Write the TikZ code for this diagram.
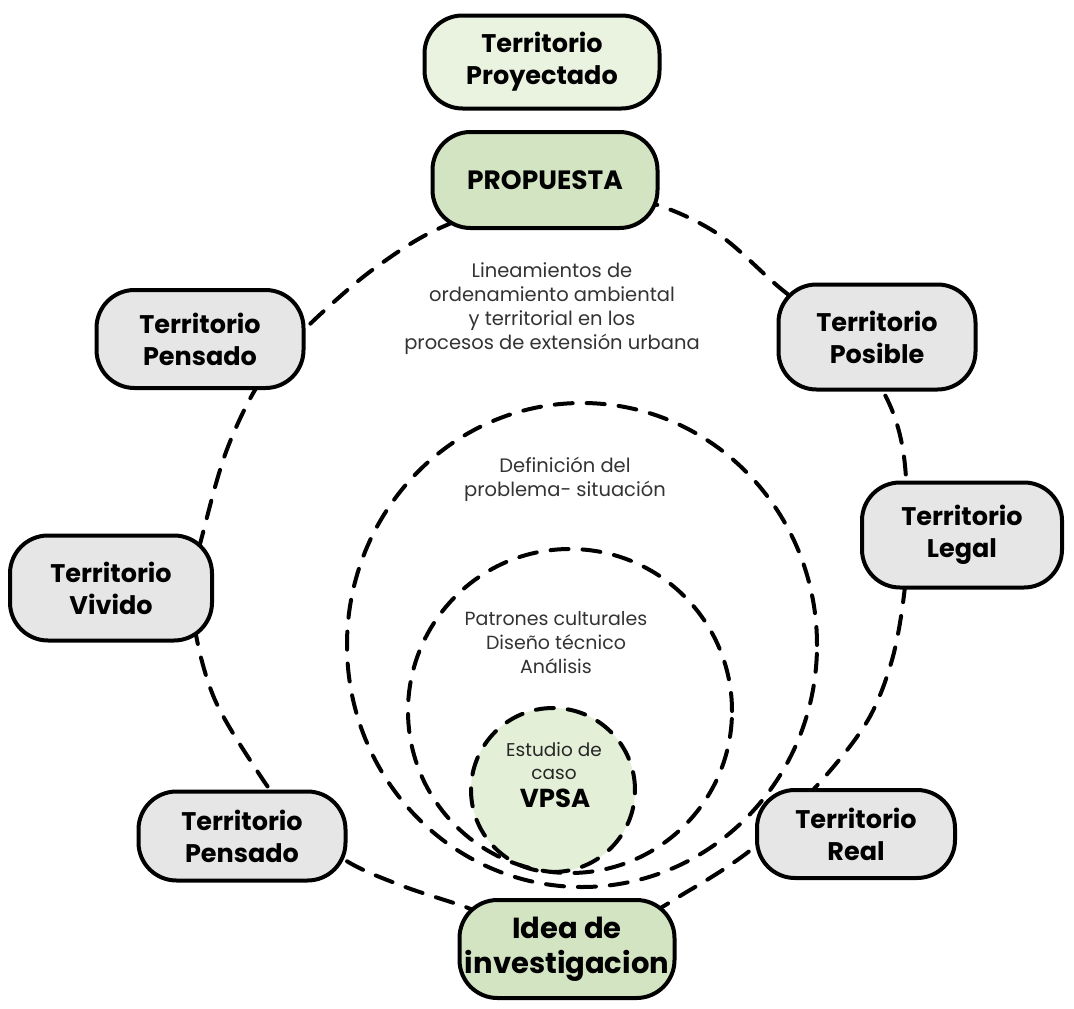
\documentclass[tikz,border=0pt]{standalone}
\usepackage{fontspec}
\setmainfont{Poppins}
\usetikzlibrary{shapes.geometric}
\definecolor{boxgray}{HTML}{E6E6E6}
\definecolor{lightgreen}{HTML}{EAF2E0}
\definecolor{midgreen}{HTML}{D3E4C3}
\definecolor{vpsagreen}{HTML}{E4EFD7}
\definecolor{txtgray}{HTML}{333333}
\begin{document}
\begin{tikzpicture}[x=1pt,y=-1pt,
  box/.style={draw=black, line width=4pt, rounded corners=38pt, align=center,
    font=\bfseries\fontsize{25.5}{32}\selectfont, inner sep=0pt, fill=boxgray},
  ring/.style={draw=black, line width=4pt, dash pattern=on 18pt off 14pt, line cap=round},
  lbl/.style={align=center, text=txtgray, font=\fontsize{19.5}{24}\selectfont}]
\useasboundingbox[fill=white] (0,0) rectangle (1074,1009);

% outer ring
\draw[ring] plot[smooth cycle, tension=0.55] coordinates {
 (545,192) (640,200) (715,232) (780,288) (845,340) (885,395) (903,450) (908,530)
 (904,595) (892,660) (868,720) (822,780) (757,845) (690,890) (620,925) (520,925)
 (460,905) (400,885) (345,860) (290,815) (250,760) (215,700) (197,640) (192,585)
 (205,525) (226,452) (255,390) (290,345) (325,310) (375,268) (440,228)};

% study circle
\node (vpsa) [circle, fill=vpsagreen, ring, minimum size=164pt] at (553,790) {};
% middle and inner rings
\node (mid) [ellipse, ring, minimum width=470pt, minimum height=484pt] at (582,645) {};
\node (inner) [circle, ring, minimum size=324pt] at (570,711) {};

% labels
\node (lin) [lbl] at (552,309) {Lineamientos de\\ordenamiento ambiental\\y territorial en los\\procesos de extensión urbana};
\node (def) [lbl] at (565,479) {Definición del\\problema- situación};
\node (pat) [lbl, font=\fontsize{19}{24}\selectfont] at (556,643) {Patrones culturales\\Diseño técnico\\Análisis};
\node (est) [lbl, text=black!85, font=\fontsize{18.5}{23}\selectfont] at (554,761) {Estudio de\\caso};
\node (vpsat) [font=\bfseries\fontsize{26}{30}\selectfont] at (555,798) {VPSA};

% boxes
\node (proy) [box, fill=lightgreen, minimum width=235pt, minimum height=93pt] at (542,62) {Territorio\\Proyectado};
\node (prop) [box, fill=midgreen, minimum width=225pt, minimum height=96pt, font=\bfseries\fontsize{26.5}{32}\selectfont] at (545,180) {PROPUESTA};
\node (pens1) [box, minimum width=207pt, minimum height=98pt] at (200,339) {Territorio\\Pensado};
\node (pos) [box, minimum width=197pt, minimum height=105pt] at (877,337) {Territorio\\Posible};
\node (legal) [box, minimum width=200pt, minimum height=105pt] at (962,535) {Territorio\\Legal};
\node (viv) [box, minimum width=202pt, minimum height=105pt] at (111,588) {Territorio\\Vivido};
\node (pens2) [box, minimum width=207pt, minimum height=89pt] at (242,836) {Territorio\\Pensado};
\node (real) [box, minimum width=198pt, minimum height=88pt] at (856,834) {Territorio\\Real};
\node (idea) [box, fill=midgreen, minimum width=215pt, minimum height=98pt, font=\bfseries\fontsize{29}{35}\selectfont] at (567,949) {Idea de\\investigacion};
\end{tikzpicture}
\end{document}
